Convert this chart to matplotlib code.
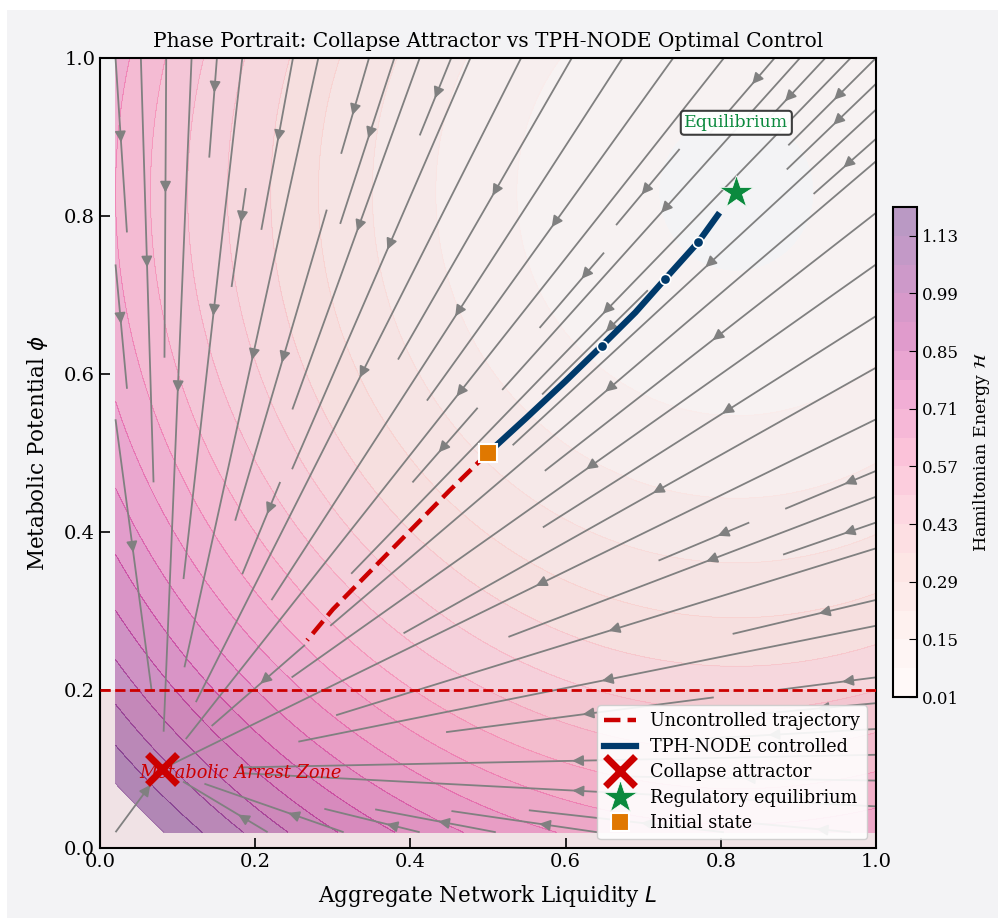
import numpy as np
import matplotlib
matplotlib.use("Agg")
import matplotlib.pyplot as plt
from matplotlib.patches import Rectangle

# key points of the system
collapse = (0.08, 0.10)
equilibrium = (0.82, 0.83)
initial = (0.50, 0.50)
arrest_level = 0.20

# trajectories
uncontrolled_L = [0.50, 0.45, 0.40, 0.35, 0.30, 0.267]
uncontrolled_phi = [0.50, 0.452, 0.402, 0.352, 0.302, 0.263]
controlled_L = [0.50, 0.55, 0.60, 0.647, 0.69, 0.728, 0.771, 0.796]
controlled_phi = [0.50, 0.545, 0.591, 0.636, 0.678, 0.720, 0.767, 0.801]
marker_L = [0.647, 0.728, 0.771]
marker_phi = [0.636, 0.720, 0.767]

# colour scale of the energy field
h_levels = np.linspace(0.01, 1.20, 18)
cbar_ticks = h_levels[::2]

plt.rcParams["font.family"] = "DejaVu Serif"
plt.rcParams["xtick.direction"] = "in"
plt.rcParams["ytick.direction"] = "in"

BG = "#f3f3f5"
RED = "#cc0000"
NAVY = "#003a6b"
GREEN = "#0b8a3e"
ORANGE = "#e07800"


def main():
    fig = plt.figure(figsize=(9.98, 9.18), dpi=100, facecolor="white")
    fig.patches.append(Rectangle((7 / 998, 0), 1 - 7 / 998, 1 - 10 / 918,
                                 transform=fig.transFigure, facecolor=BG,
                                 edgecolor="none", zorder=-10))
    ax = fig.add_axes([100 / 998, 70 / 918, 776 / 998, 790 / 918])
    ax.set_facecolor(BG)

    L = np.linspace(0.02, 1.0, 200)
    P = np.linspace(0.02, 1.0, 200)
    LL, PP = np.meshgrid(L, P)
    H = (LL - equilibrium[0]) ** 2 + (PP - equilibrium[1]) ** 2

    cf = ax.contourf(LL, PP, H, levels=h_levels, cmap="RdPu", alpha=0.4)
    ax.contour(LL, PP, H, levels=h_levels, cmap="RdPu", alpha=0.2, linewidths=0.6)

    # flow toward the collapse attractor
    U = -(LL - collapse[0])
    V = -(PP - collapse[1])
    ax.streamplot(L, P, U, V, color="gray", linewidth=1.3, density=1.05,
                  arrowsize=1.6, zorder=2)

    ax.axhspan(0, arrest_level, color="#d01020", alpha=0.07, zorder=0)
    ax.axhline(arrest_level, color=RED, ls="--", lw=2, zorder=3)
    ax.text(0.05, collapse[1] - 0.005, "Metabolic Arrest Zone", color=RED,
            style="italic", fontsize=12.8, va="center", zorder=6)

    ax.plot(uncontrolled_L, uncontrolled_phi, color=RED, ls="--", lw=3.2,
            label="Uncontrolled trajectory", zorder=4)
    ax.plot(controlled_L, controlled_phi, color=NAVY, lw=4.5,
            label="TPH-NODE controlled", zorder=4)
    ax.plot(marker_L, marker_phi, "o", color=NAVY, ms=7.5, mec="white", mew=1.2,
            zorder=5)
    ax.plot(*collapse, "x", color=RED, ms=22, mew=5,
            label="Collapse attractor", zorder=6)
    ax.plot(*equilibrium, "*", color=GREEN, ms=25, mec="white", mew=0.5,
            label="Regulatory equilibrium", zorder=6)
    ax.plot(*initial, "s", color=ORANGE, ms=13, mec="white", mew=1.5,
            label="Initial state", zorder=6)

    ax.text(equilibrium[0], 0.918, "Equilibrium", color=GREEN, fontsize=12.5,
            ha="center", va="center", zorder=7,
            bbox=dict(boxstyle="round,pad=0.2", fc="white", ec="#333333",
                      lw=1.5, alpha=0.95))

    ax.set_xlim(0, 1)
    ax.set_ylim(0, 1)
    ax.set_xlabel("Aggregate Network Liquidity $L$", fontsize=15.5, labelpad=9)
    ax.set_ylabel("Metabolic Potential $\\phi$", fontsize=15.5, labelpad=10)
    ax.set_title("Phase Portrait: Collapse Attractor vs TPH-NODE Optimal Control",
                 fontsize=14.5, pad=8)
    ax.tick_params(labelsize=14, length=7, width=1.2)
    for s in ax.spines.values():
        s.set_linewidth(1.5)

    ax.legend(loc="lower right", fontsize=12.7, framealpha=0.9,
              handlelength=1.8, borderpad=0.4, labelspacing=0.42)

    cax = fig.add_axes([893 / 998, 221 / 918, 24 / 998, 490 / 918])
    cb = fig.colorbar(cf, cax=cax, ticks=cbar_ticks)
    cb.ax.set_yticklabels([f"{t:.2f}" for t in cbar_ticks])
    cb.ax.tick_params(labelsize=12, direction="in", length=6)
    cb.outline.set_linewidth(1.5)
    cb.set_label("Hamiltonian Energy $\\mathcal{H}$", fontsize=12.5, labelpad=9)

    fig.savefig("out.png", dpi=100, facecolor=fig.get_facecolor())


if __name__ == "__main__":
    main()
